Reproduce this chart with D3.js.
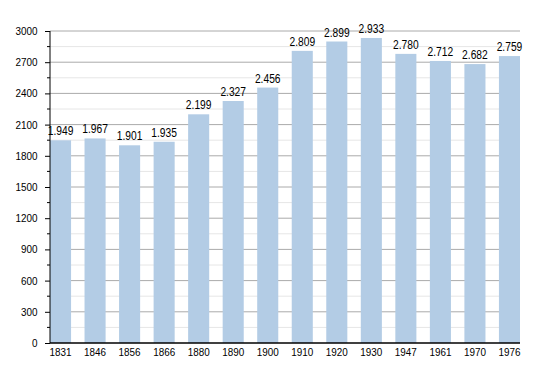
<!DOCTYPE html>
<html>
<head>
<meta charset="utf-8">
<script src="https://cdn.jsdelivr.net/npm/d3@7"></script>
<style>
body { margin: 0; background: #fff; }
text { font-family: "Liberation Sans", Arial, sans-serif; fill: #000; }
</style>
</head>
<body>
<svg id="chart" width="550" height="373"></svg>
<script>
var years = ["1831", "1846", "1856", "1866", "1880", "1890", "1900", "1910", "1920", "1930", "1947", "1961", "1970", "1976"];
var population = [1949, 1967, 1901, 1935, 2199, 2327, 2456, 2809, 2899, 2933, 2780, 2712, 2682, 2759];
var yTicks = [0, 300, 600, 900, 1200, 1500, 1800, 2100, 2400, 2700, 3000];
var yMinor = [150, 450, 750, 1050, 1350, 1650, 1950, 2250, 2550, 2850];

var svg = d3.select("#chart");
var plotL = 50, plotR = 520, plotT = 31, plotB = 343;
var fontFam = "Liberation Sans, Arial, sans-serif";

var x = d3.scaleBand().domain(years).range([plotL, plotR]).paddingInner(0.39).paddingOuter(0);
var y = d3.scaleLinear().domain([0, 3000]).range([plotB, plotT]);

var fmt = function (v) { return d3.format(",")(v).replace(",", "."); };

// minor grid
svg.append("g").selectAll("line").data(yMinor).enter().append("line")
	.attr("x1", plotL).attr("x2", plotR)
	.attr("y1", function (d) { return y(d); }).attr("y2", function (d) { return y(d); })
	.attr("stroke", "#e6e6e6").attr("stroke-width", 1);

// major grid
svg.append("g").selectAll("line").data(yTicks.slice(1)).enter().append("line")
	.attr("x1", plotL).attr("x2", plotR)
	.attr("y1", function (d) { return y(d); }).attr("y2", function (d) { return y(d); })
	.attr("stroke", "#aaaaaa").attr("stroke-width", 1);

// bars
svg.append("g").selectAll("rect").data(population).enter().append("rect")
	.attr("x", function (d, i) { return x(years[i]); })
	.attr("y", function (d) { return y(d); })
	.attr("width", x.bandwidth())
	.attr("height", function (d) { return plotB - y(d); })
	.attr("fill", "#b3cce5");

// value labels (narrow look of the original)
svg.append("g").selectAll("text").data(population).enter().append("text")
	.attr("transform", function (d, i) {
		return "translate(" + (x(years[i]) + x.bandwidth() / 2) + "," + (y(d) - 5) + ") scale(0.82,1)";
	})
	.attr("text-anchor", "middle")
	.attr("font-size", "12.5px")
	.text(fmt);

// y axis
var yAxis = d3.axisLeft(y).tickValues(yTicks).tickSize(5).tickPadding(9).tickFormat(d3.format("d"));
var ya = svg.append("g").attr("transform", "translate(" + plotL + ",0)").call(yAxis);
ya.select(".domain").attr("stroke", "#000").attr("d", "M0," + plotT + "V" + plotB);
ya.selectAll("text").attr("font-size", "11px").attr("font-family", fontFam).attr("transform", "scale(0.9,1)");

svg.append("g").selectAll("line").data(yMinor).enter().append("line")
	.attr("x1", plotL - 3).attr("x2", plotL)
	.attr("y1", function (d) { return y(d); }).attr("y2", function (d) { return y(d); })
	.attr("stroke", "#000");

// x axis
var xAxis = d3.axisBottom(x).tickSize(0).tickPadding(5);
var xa = svg.append("g").attr("transform", "translate(0," + plotB + ")").call(xAxis);
xa.select(".domain").attr("stroke", "#000").attr("stroke-width", 1.5).attr("d", "M" + plotL + ",0H" + plotR);
xa.selectAll("text").attr("font-size", "11px").attr("font-family", fontFam).attr("transform", "scale(0.9,1)");
</script>
</body>
</html>
